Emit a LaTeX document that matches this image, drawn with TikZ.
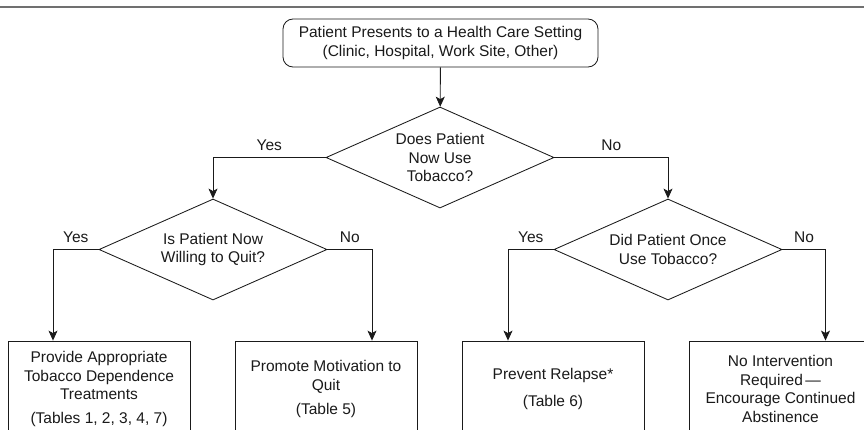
\documentclass[tikz,border=0pt]{standalone}
\usepackage{fontspec}
\setmainfont{Liberation Sans}
\usetikzlibrary{arrows.meta,positioning,shapes.geometric}
\definecolor{rulegray}{HTML}{707070}
\definecolor{ink}{HTML}{1A1A1A}
\newcommand{\flowfont}{\fontsize{15.5}{18.7}\selectfont}
\tikzset{
  startbox/.style={draw=ink, line width=0.85pt, rounded corners=10pt,
                   minimum width=315pt, minimum height=48pt,
                   align=center, text=ink, font=\flowfont},
  askbox/.style={diamond, draw=ink, line width=0.85pt, aspect=2.26, inner sep=0pt,
                 minimum width=228pt, minimum height=101pt,
                 align=center, text=ink, font=\flowfont},
  actbox/.style={draw=ink, line width=0.85pt, inner sep=0pt,
                 minimum width=182pt, minimum height=96pt,
                 align=center, text=ink, font=\flowfont},
  arr/.style={-{Stealth[length=10pt,width=9pt,inset=2.5pt]}, line width=0.85pt, draw=ink},
  yn/.style={above=4pt, inner sep=2pt, text=ink, font=\flowfont}}

\begin{document}
\begin{tikzpicture}[x=1pt, y=-1pt]
  \useasboundingbox (0,0) rectangle (864,429);
  \clip (0,0) rectangle (864,429);
  \draw[rulegray, line width=2pt] (0,7) -- (864,7);

  % entry and the three questions
  \node[startbox] (start) at (440.5,43) {Patient Presents to a Health Care Setting\\(Clinic, Hospital, Work Site, Other)};
  \node[askbox] (usenow) at (440,157.5) {Does Patient\\Now Use\\Tobacco?};
  \node[askbox] (willing) at (213,249.5) {Is Patient Now\\Willing to Quit?};
  \node[askbox] (once) at (668,249.5) {Did Patient Once\\Use Tobacco?};

  % outcomes (cut off by the page edge)
  \node[actbox] (treat) at (99,389) {Provide Appropriate\\Tobacco Dependence\\Treatments\\[5pt](Tables 1, 2, 3, 4, 7)};
  \node[actbox] (motivate) at (326,389) {Promote Motivation to\\Quit\\[6pt](Table 5)};
  \node[actbox] (relapse) at (553,389) {Prevent Relapse*\\[8pt](Table 6)};
  \node[actbox] (none) at (780.5,389) {No Intervention\\Required\,—\\Encourage Continued\\Abstinence};

  \draw[arr] (start) -- (usenow);
  \draw[arr] (usenow.west) -| node[yn, pos=0.25] {Yes} (willing.north);
  \draw[arr] (usenow.east) -| node[yn, pos=0.25] {No} (once.north);
  \draw[arr] (willing.west) -| node[yn, pos=0.25] {Yes} ([xshift=-46pt]treat.north);
  \draw[arr] (willing.east) -| node[yn, pos=0.25] {No} ([xshift=46pt]motivate.north);
  \draw[arr] (once.west) -| node[yn, pos=0.25] {Yes} ([xshift=-45pt]relapse.north);
  \draw[arr] (once.east) -| node[yn, pos=0.25] {No} ([xshift=45pt]none.north);
\end{tikzpicture}
\end{document}
